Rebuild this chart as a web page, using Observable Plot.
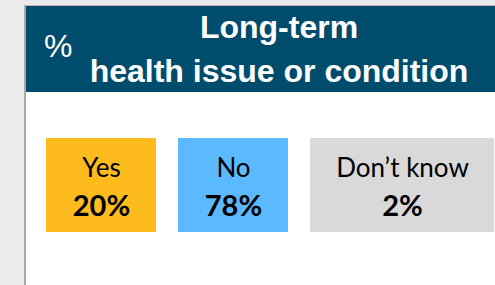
<!DOCTYPE html>
<html>
<head>
<meta charset="utf-8">
<script src="https://cdn.jsdelivr.net/npm/d3@7"></script>
<script src="https://cdn.jsdelivr.net/npm/@observablehq/plot@0.6"></script>
<style>
  html, body { margin: 0; padding: 0; }
  body { width: 495px; height: 285px; background: #ebebeb; position: relative; overflow: hidden;
         font-family: "Liberation Sans", Arial, sans-serif; }
  #panel { position: absolute; left: 24px; top: 5px; width: 471px; height: 280px;
           border-left: 2px solid #a9a9a9; border-top: 1px solid #b4b4b4; background: #fff; overflow: hidden; }
  #header { position: absolute; left: 0; top: 0; width: 471px; height: 86px; background: #004c6d; color: #fff; overflow: hidden; }
  #pct { position: absolute; left: 18px; top: 24px; font-size: 32px; line-height: 32px; white-space: nowrap; }
  #title { position: absolute; left: 38px; top: -1px; width: 430px; text-align: center;
           font-weight: bold; font-size: 32px; line-height: 44px; white-space: nowrap; }
  #chart { position: absolute; left: 0; top: 86px; }
</style>
</head>
<body>
<div id="panel">
  <div id="header">
    <div id="pct">%</div>
    <div id="title">Long-term<br>health issue or condition</div>
  </div>
  <div id="chart"></div>
</div>
<script>
// ---- data ----
const categories = ["Yes", "No", "Don’t know"];
const values = [20, 78, 2];
const colors = ["#FDBB1E", "#5BB9FF", "#D9D9D9"];

// ---- layout ----
const W = 469, H = 193;
const boxW = 110, gap = 22, left0 = 20;
const boxTop = 46, boxBottom = 140, labelBase = 84, valueBase = 123;

const rows = categories.map((c, i) => ({ category: c, value: values[i], color: colors[i] }));
let cursor = left0;
rows.forEach((r, i) => {
  r.x1 = cursor;
  r.x2 = i === rows.length - 1 ? W - 1 : cursor + boxW;
  r.xc = (r.x1 + r.x2) / 2;
  cursor = r.x2 + gap;
});

const chart = Plot.plot({
  width: W,
  height: H,
  margin: 0,
  style: { fontFamily: "Lato, 'Open Sans', sans-serif", background: "transparent", overflow: "visible" },
  x: { domain: [0, W], range: [0, W], axis: null },
  y: { domain: [0, H], range: [0, H], axis: null },
  color: { type: "identity" },
  marks: [
    Plot.rect(rows, { x1: "x1", x2: "x2", y1: () => boxTop, y2: () => boxBottom, fill: "color" }),
    Plot.text(rows, { x: "xc", y: () => labelBase, text: "category", lineAnchor: "bottom",
                      fontSize: 26, fill: "#000" }),
    Plot.text(rows, { x: "xc", y: () => valueBase, text: d => d.value + "%", lineAnchor: "bottom",
                      fontSize: 29, fontWeight: "bold", fill: "#000" })
  ]
});
document.getElementById("chart").appendChild(chart);
</script>
</body>
</html>
